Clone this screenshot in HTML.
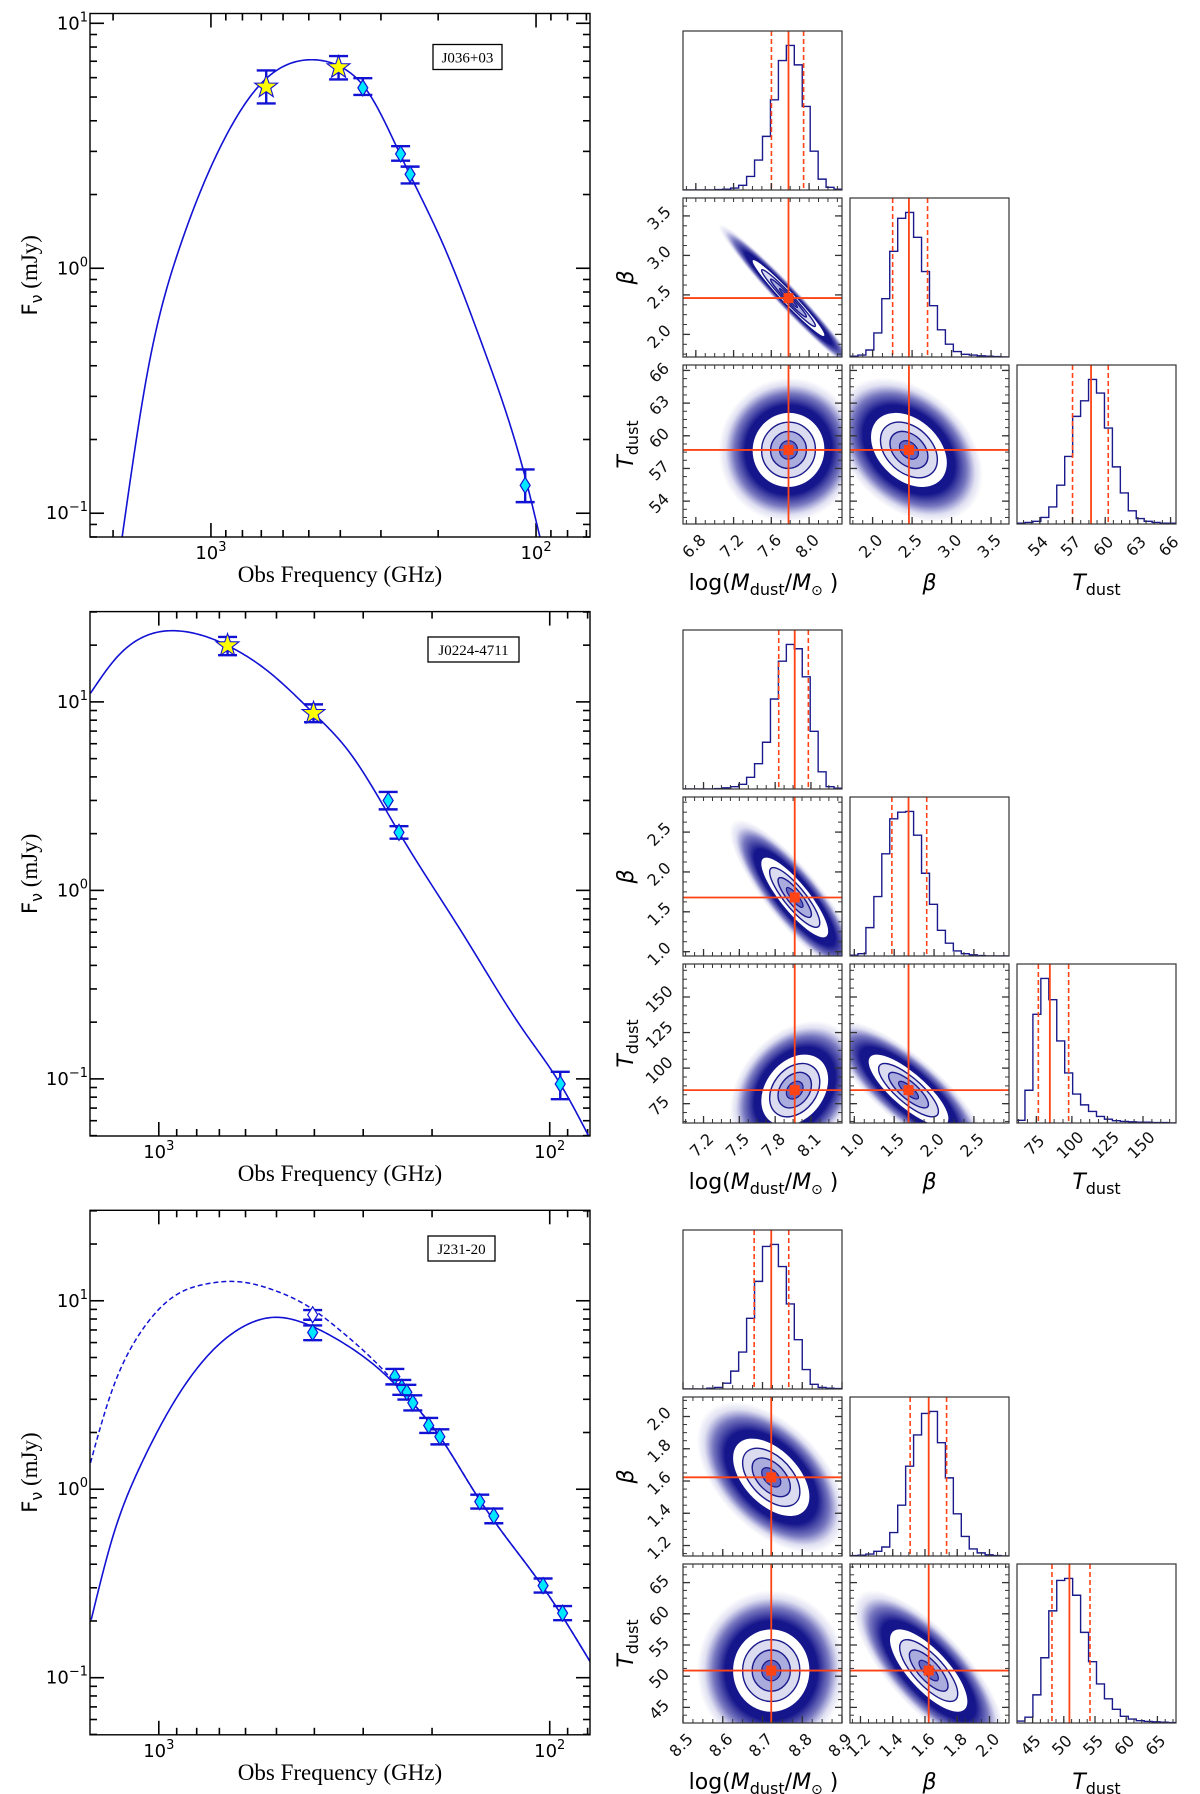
<!DOCTYPE html>
<html><head><meta charset="utf-8">
<style>
html,body{margin:0;padding:0;background:#fff;}
svg{display:block;}
text{font-family:"DejaVu Sans","Liberation Sans",sans-serif;}
</style></head>
<body>
<svg id="fig" width="1200" height="1794" viewBox="0 0 1200 1794" xmlns="http://www.w3.org/2000/svg">
<defs>
<radialGradient id="halo" cx="0.5" cy="0.5" r="0.5">
<stop offset="0" stop-color="#16168c" stop-opacity="1"/>
<stop offset="0.62" stop-color="#16168c" stop-opacity="1"/>
<stop offset="0.78" stop-color="#1e1e96" stop-opacity="0.6"/>
<stop offset="0.9" stop-color="#3030a8" stop-opacity="0.15"/>
<stop offset="1" stop-color="#3030a8" stop-opacity="0"/>
</radialGradient>
</defs>
</svg>
<script>
// ---------- SED 1 : J036+03 ----------
const sed1_freq = [676, 405, 341, 261, 244, 108];
const sed1_flux = [5.5, 6.6, 5.45, 2.93, 2.42, 0.13];
const sed1_errLo = [4.71, 5.9, 5.1, 2.75, 2.22, 0.111];
const sed1_errHi = [6.42, 7.35, 5.97, 3.15, 2.6, 0.151];
const sed1_marker = ['star', 'star', 'diamond', 'diamond', 'diamond', 'diamond'];
const sed1_curveFreq = [1875, 1563, 1259, 899, 706, 492, 396, 330, 258, 191, 145, 107, 97.3];
const sed1_curveFlux = [0.0802, 0.384, 1.175, 3.467, 5.62, 7.10, 6.61, 5.28, 2.80, 1.21, 0.471, 0.134, 0.080];

// ---------- SED 2 : J0224-4711 ----------
const sed2_freq = [667, 402, 259, 243, 94];
const sed2_flux = [19.9, 8.7, 3.0, 2.03, 0.094];
const sed2_errLo = [17.7, 7.8, 2.69, 1.88, 0.078];
const sed2_errHi = [22.1, 9.7, 3.33, 2.19, 0.109];
const sed2_marker = ['star', 'star', 'diamond', 'diamond', 'diamond'];
const sed2_curveFreq = [1496, 1285, 1096, 891, 667, 516, 402, 327, 243, 165, 117, 94, 79.6];
const sed2_curveFlux = [11.1, 17.1, 22.1, 23.8, 19.9, 14.1, 8.7, 5.48, 2.03, 0.567, 0.182, 0.094, 0.050];

// ---------- SED 3 : J231-20 ----------
const sed3_freq = [404, 404, 249, 239, 232, 224, 204, 191, 151, 139, 104, 92.7];
const sed3_flux = [8.43, 6.79, 3.96, 3.47, 3.27, 2.87, 2.18, 1.90, 0.859, 0.721, 0.308, 0.220];
const sed3_errLo = [7.93, 6.18, 3.6, 3.17, 2.99, 2.62, 1.99, 1.73, 0.79, 0.66, 0.283, 0.202];
const sed3_errHi = [8.93, 7.4, 4.35, 3.8, 3.58, 3.15, 2.39, 2.08, 0.935, 0.79, 0.336, 0.240];
const sed3_marker = ['open', 'diamond', 'diamond', 'diamond', 'diamond', 'diamond', 'diamond', 'diamond', 'diamond', 'diamond', 'diamond', 'diamond'];
const sed3_curveFreq = [1489, 1318, 1117, 918, 753, 619, 505, 414, 337, 272, 228, 191, 157, 128, 105, 78.7];
const sed3_curveFlux = [0.203, 0.540, 1.318, 2.864, 5.06, 7.14, 8.17, 7.45, 5.96, 4.30, 2.98, 1.90, 0.993, 0.540, 0.311, 0.121];
const sed3_dashFreq = [1500, 1334, 1117, 918, 753, 619, 509, 414, 337, 272, 228, 191, 157, 128, 105, 78.7];
const sed3_dashFlux = [1.35, 3.10, 6.73, 10.5, 12.3, 12.6, 11.4, 9.31, 6.73, 4.48, 2.98, 1.90, 0.993, 0.540, 0.311, 0.121];

// ---------- Corner 1 ----------
const c1_range = [[6.664, 8.349], [1.714, 3.727], [51.9, 66.5]];
const c1_ticks = [[6.8, 7.2, 7.6, 8.0], [2.0, 2.5, 3.0, 3.5], [54, 57, 60, 63, 66]];
const c1_tickLabels = [['6.8', '7.2', '7.6', '8.0'], ['2.0', '2.5', '3.0', '3.5'], ['54', '57', '60', '63', '66']];
const c1_histM = [0, 0, 0, 0, 1, 2, 5, 12, 35, 77, 138, 232, 333, 372, 322, 215, 100, 28, 7, 2];
const c1_histB = [2, 5, 18, 62, 150, 272, 357, 372, 308, 220, 132, 70, 33, 14, 7, 5, 3, 2, 1, 0];
const c1_histT = [2, 4, 7, 17, 44, 100, 174, 277, 317, 372, 337, 247, 147, 80, 34, 14, 7, 4, 2, 2];
const c1_median = [7.782, 2.46, 58.7];
const c1_qLo = [7.601, 2.254, 57.0];
const c1_qHi = [7.942, 2.696, 60.28];
const c1_sigma = [0.19, 0.24, 1.7];
const c1_rho = [-0.975, 0.02, -0.35];

// ---------- Corner 2 ----------
const c2_range = [[7.028, 8.36], [0.946, 2.94], [61.4, 173.2]];
const c2_ticks = [[7.2, 7.5, 7.8, 8.1], [1.0, 1.5, 2.0, 2.5], [75, 100, 125, 150]];
const c2_tickLabels = [['7.2', '7.5', '7.8', '8.1'], ['1.0', '1.5', '2.0', '2.5'], ['75', '100', '125', '150']];
const c2_histM = [0, 0, 0, 0, 1, 3, 6, 12, 30, 65, 120, 231, 328, 371, 360, 288, 148, 44, 6, 2];
const c2_histB = [2, 6, 73, 153, 263, 353, 370, 372, 311, 213, 133, 66, 33, 13, 6, 3, 1, 0, 0, 0];
const c2_histT = [7, 85, 282, 375, 320, 213, 130, 75, 47, 30, 17, 10, 6, 4, 3, 2, 2, 1, 1, 0];
const c2_median = [7.964, 1.68, 84.5];
const c2_qLo = [7.83, 1.471, 76.4];
const c2_qHi = [8.078, 1.908, 97.7];
const c2_sigma = [0.14, 0.25, 12.5];
const c2_rho = [-0.85, 0.3, -0.8];

// ---------- Corner 3 ----------
const c3_range = [[8.5, 8.9], [1.135, 2.121], [42.5, 67.98]];
const c3_ticks = [[8.5, 8.6, 8.7, 8.8, 8.9], [1.2, 1.4, 1.6, 1.8, 2.0], [45, 50, 55, 60, 65]];
const c3_tickLabels = [['8.5', '8.6', '8.7', '8.8', '8.9'], ['1.2', '1.4', '1.6', '1.8', '2.0'], ['45', '50', '55', '60', '65']];
const c3_histM = [0, 0, 0, 2, 4, 15, 46, 95, 182, 277, 367, 372, 315, 219, 127, 50, 12, 4, 2, 1];
const c3_histB = [1, 2, 5, 12, 23, 60, 130, 230, 310, 365, 370, 290, 200, 108, 50, 18, 8, 3, 1, 0];
const c3_histT = [5, 15, 72, 167, 287, 365, 370, 327, 232, 157, 100, 62, 35, 17, 10, 6, 4, 3, 2, 1];
const c3_median = [8.722, 1.623, 50.9];
const c3_qLo = [8.679, 1.508, 48.1];
const c3_qHi = [8.766, 1.734, 54.2];
const c3_sigma = [0.048, 0.12, 3.3];
const c3_rho = [-0.5, 0.0, -0.75];

const NS = 'http://www.w3.org/2000/svg';
const svg = document.getElementById('fig');
function mk(parent, tag, attrs, name, txt) {
  const n = document.createElementNS(NS, tag);
  for (const k in attrs) n.setAttribute(k, attrs[k]);
  
  
  if (txt !== undefined) n.textContent = txt;
  parent.appendChild(n);
  return n;
}
const BLUE = '#1212d4';
const NAVY = '#1a1a8c';
const RED = '#ff4314';
let clipId = 0;
function clip(x, y, w, h) {
  const id = 'cp' + (clipId++);
  const cp = mk(svg.querySelector('defs'), 'clipPath', {id: id}, 'clip-region');
  mk(cp, 'rect', {x: x, y: y, width: w, height: h}, 'clip-rect');
  return 'url(#' + id + ')';
}
function splinePath(freqs, fluxes, X, Y) {
  let pts = freqs.map((f, i) => [Math.log10(f), Math.log10(fluxes[i])]).sort((a, b) => a[0] - b[0]);
  const n = pts.length, xs = pts.map(p => p[0]), ys = pts.map(p => p[1]);
  const h = [], al = [0], l = [1], mu = [0], z = [0], c = new Array(n).fill(0), b = [], d = [];
  for (let i = 0; i < n - 1; i++) h.push(xs[i + 1] - xs[i]);
  for (let i = 1; i < n - 1; i++) al.push(3 / h[i] * (ys[i + 1] - ys[i]) - 3 / h[i - 1] * (ys[i] - ys[i - 1]));
  for (let i = 1; i < n - 1; i++) {
    l[i] = 2 * (xs[i + 1] - xs[i - 1]) - h[i - 1] * mu[i - 1];
    mu[i] = h[i] / l[i];
    z[i] = (al[i] - h[i - 1] * z[i - 1]) / l[i];
  }
  for (let j = n - 2; j >= 0; j--) {
    c[j] = (j === 0 ? 0 : z[j] - mu[j] * c[j + 1]);
    b[j] = (ys[j + 1] - ys[j]) / h[j] - h[j] * (c[j + 1] + 2 * c[j]) / 3;
    d[j] = (c[j + 1] - c[j]) / (3 * h[j]);
  }
  let dstr = '';
  for (let j = 0; j < n - 1; j++) {
    for (let k = 0; k <= 20; k++) {
      if (j > 0 && k === 0) continue;
      const t = h[j] * k / 20;
      const lx = xs[j] + t, ly = ys[j] + b[j] * t + c[j] * t * t + d[j] * t * t * t;
      const px = X(Math.pow(10, lx)), py = Y(Math.pow(10, ly));
      dstr += (dstr ? 'L' : 'M') + px.toFixed(2) + ',' + py.toFixed(2);
    }
  }
  return dstr;
}
function supLabel(g, x, y, exp, anchor, name) {
  const t = mk(g, 'text', {x: x, y: y, 'font-size': 18, 'text-anchor': anchor, fill: '#000'}, name);
  mk(t, 'tspan', {}, 'tick-base', '10');
  mk(t, 'tspan', {dy: -8, 'font-size': 13}, 'tick-exponent', exp);
}
function drawSED(L, freq, flux, lo, hi, markers, cF, cS, dF, dS) {
  const g = mk(svg, 'g', {}, L.name);
  const W = L.x1 - L.x0, H = L.y1 - L.y0;
  const X = f => L.x0 + (L.lxL - Math.log10(f)) / (L.lxL - L.lxR) * W;
  const Y = s => L.y0 + (L.lyT - Math.log10(s)) / (L.lyT - L.lyB) * H;
  const tg = mk(g, 'g', {stroke: '#000', 'stroke-width': 1.6}, 'axis-ticks');
  for (let k = Math.floor(L.lxR); k <= Math.ceil(L.lxL); k++) {
    for (let m = 1; m <= 9; m++) {
      const v = Math.log10(m * Math.pow(10, k));
      if (v > L.lxL || v < L.lxR) continue;
      const x = L.x0 + (L.lxL - v) / (L.lxL - L.lxR) * W;
      const len = m === 1 ? 14 : 7;
      mk(tg, 'line', {x1: x, y1: L.y1, x2: x, y2: L.y1 - len}, 'x-tick');
      mk(tg, 'line', {x1: x, y1: L.y0, x2: x, y2: L.y0 + len}, 'x-tick-top');
      if (m === 1) supLabel(g, x, L.y1 + 22, String(k), 'middle', 'x-tick-label');
    }
  }
  for (let k = Math.floor(L.lyB); k <= Math.ceil(L.lyT); k++) {
    for (let m = 1; m <= 9; m++) {
      const v = Math.log10(m * Math.pow(10, k));
      if (v > L.lyT || v < L.lyB) continue;
      const y = L.y0 + (L.lyT - v) / (L.lyT - L.lyB) * H;
      const len = m === 1 ? 14 : 7;
      mk(tg, 'line', {x1: L.x0, y1: y, x2: L.x0 + len, y2: y}, 'y-tick');
      mk(tg, 'line', {x1: L.x1, y1: y, x2: L.x1 - len, y2: y}, 'y-tick-right');
      if (m === 1) supLabel(g, L.x0 - 2, y + 6, k < 0 ? '\u2212' + Math.abs(k) : String(k), 'end', 'y-tick-label');
    }
  }
  const cp = clip(L.x0, L.y0, W, H);
  const cg = mk(g, 'g', {'clip-path': cp}, 'plot-area');
  if (dF) {
    mk(cg, 'path', {d: splinePath(dF, dS, X, Y), fill: 'none', stroke: BLUE, 'stroke-width': 1.5, 'stroke-dasharray': '5,3'}, 'model-curve-dashed');
  }
  mk(cg, 'path', {d: splinePath(cF, cS, X, Y), fill: 'none', stroke: BLUE, 'stroke-width': 1.6}, 'model-curve');
  for (let i = 0; i < freq.length; i++) {
    const x = X(freq[i]), y = Y(flux[i]), yl = Y(lo[i]), yh = Y(hi[i]);
    const eg = mk(cg, 'g', {stroke: BLUE, 'stroke-width': 2.4}, 'error-bar');
    mk(eg, 'line', {x1: x, y1: yl, x2: x, y2: yh}, 'error-bar-stem');
    mk(eg, 'line', {x1: x - 9.5, y1: yl, x2: x + 9.5, y2: yl}, 'error-bar-cap');
    mk(eg, 'line', {x1: x - 9.5, y1: yh, x2: x + 9.5, y2: yh}, 'error-bar-cap');
    if (markers[i] === 'star') {
      let d = '';
      for (let j = 0; j < 10; j++) {
        const r = j % 2 ? 4.8 : 12, a = -Math.PI / 2 + j * Math.PI / 5;
        d += (j ? 'L' : 'M') + (x + r * Math.cos(a)).toFixed(2) + ',' + (y + r * Math.sin(a)).toFixed(2);
      }
      mk(cg, 'path', {d: d + 'Z', fill: '#ffff00', stroke: BLUE, 'stroke-width': 1.1}, 'star-marker');
    } else {
      const fill = markers[i] === 'open' ? '#ffffff' : '#00e8ff';
      mk(cg, 'path', {d: 'M' + x + ',' + (y - 8) + 'L' + (x + 5) + ',' + y + 'L' + x + ',' + (y + 8) + 'L' + (x - 5) + ',' + y + 'Z', fill: fill, stroke: BLUE, 'stroke-width': 1.2}, 'diamond-marker');
    }
  }
  mk(g, 'rect', {x: L.x0, y: L.y0, width: W, height: H, fill: 'none', stroke: '#000', 'stroke-width': 1.4}, 'plot-frame');
  mk(g, 'rect', {x: L.bx, y: L.by, width: L.bw, height: 25, fill: '#fff', stroke: '#000', 'stroke-width': 1.3}, 'source-label-box');
  mk(g, 'text', {x: L.bx + L.bw / 2, y: L.by + 18, 'text-anchor': 'middle', 'font-size': 15, style: 'font-family:"Liberation Serif",serif'}, 'source-label', L.label);
  mk(g, 'text', {x: 340, y: L.y1 + 45, 'text-anchor': 'middle', 'font-size': 23, style: 'font-family:"Liberation Serif",serif'}, 'x-axis-title', 'Obs Frequency (GHz)');
  const yt = mk(g, 'text', {x: 0, y: 0, transform: 'translate(37,' + ((L.y0 + L.y1) / 2) + ') rotate(-90)', 'text-anchor': 'middle', 'font-size': 23, style: 'font-family:"Liberation Serif",serif'}, 'y-axis-title');
  mk(yt, 'tspan', {style: 'font-family:"DejaVu Sans",sans-serif', 'font-size': 21}, 'y-title-f', 'F');
  mk(yt, 'tspan', {dy: 5, 'font-size': 16, style: 'font-family:"DejaVu Sans",sans-serif'}, 'y-title-nu', '\u03bd');
  mk(yt, 'tspan', {dy: -5}, 'y-title-unit', ' (mJy)');
}

drawSED({name: 'sed-plot-j036', x0: 90, y0: 13.5, x1: 590, y1: 537, lxL: 3.372, lxR: 1.834, lyT: 1.040, lyB: -1.097, bx: 433, by: 44.5, bw: 69, label: 'J036+03'},
  sed1_freq, sed1_flux, sed1_errLo, sed1_errHi, sed1_marker, sed1_curveFreq, sed1_curveFlux);
drawSED({name: 'sed-plot-j0224', x0: 90, y0: 611.6, x1: 590, y1: 1136, lxL: 3.176, lxR: 1.897, lyT: 1.479, lyB: -1.303, bx: 428, by: 637, bw: 91, label: 'J0224-4711'},
  sed2_freq, sed2_flux, sed2_errLo, sed2_errHi, sed2_marker, sed2_curveFreq, sed2_curveFlux);
drawSED({name: 'sed-plot-j231', x0: 90, y0: 1210.3, x1: 590, y1: 1734.8, lxL: 3.176, lxR: 1.897, lyT: 1.480, lyB: -1.303, bx: 428, by: 1236, bw: 67, label: 'J231-20'},
  sed3_freq, sed3_flux, sed3_errLo, sed3_errHi, sed3_marker, sed3_curveFreq, sed3_curveFlux, sed3_dashFreq, sed3_dashFlux);

function drawCorner(name, ox, oy, range, ticks, tlabels, hists, med, qlo, qhi, sig, rho) {
  const g = mk(svg, 'g', {}, name);
  const S = 159, step = 167;
  const px = (v, i, x0) => x0 + (v - range[i][0]) / (range[i][1] - range[i][0]) * S;
  const py = (v, i, y0) => y0 + S - (v - range[i][0]) / (range[i][1] - range[i][0]) * S;
  const rhoIdx = {'1,0': 0, '2,0': 1, '2,1': 2};
  for (let r = 0; r < 3; r++) {
    for (let c = 0; c <= r; c++) {
      const x0 = ox + c * step, y0 = oy + r * step;
      const pg = mk(g, 'g', {}, r === c ? 'histogram-panel' : 'scatter-panel');
      const cp = clip(x0, y0, S, S);
      const ig = mk(pg, 'g', {'clip-path': cp}, 'panel-area');
      if (r === c) {
        const h = hists[r], n = h.length, mx = Math.max.apply(null, h) * 1.1;
        let d = '';
        for (let i = 0; i < n; i++) {
          const xa = x0 + i / n * S, xb = x0 + (i + 1) / n * S, yy = y0 + S - h[i] / mx * S;
          d += (i ? 'L' : 'M') + xa.toFixed(2) + ',' + yy.toFixed(2) + 'L' + xb.toFixed(2) + ',' + yy.toFixed(2);
        }
        mk(ig, 'path', {d: d, fill: 'none', stroke: NAVY, 'stroke-width': 1.4}, 'histogram-step');
        [qlo[r], qhi[r]].forEach(v => {
          const x = px(v, r, x0);
          mk(ig, 'line', {x1: x, y1: y0, x2: x, y2: y0 + S, stroke: RED, 'stroke-width': 1.6, 'stroke-dasharray': '5,3'}, 'quantile-line');
        });
        const xm = px(med[r], r, x0);
        mk(ig, 'line', {x1: xm, y1: y0, x2: xm, y2: y0 + S, stroke: RED, 'stroke-width': 1.8}, 'median-line');
      } else {
        const sx = sig[c] * S / (range[c][1] - range[c][0]);
        const sy = sig[r] * S / (range[r][1] - range[r][0]);
        const p = rho[rhoIdx[r + ',' + c]];
        const cx = px(med[c], c, x0), cy = py(med[r], r, y0);
        const tr = 'matrix(' + sx + ',' + (-p * sy) + ',0,' + (sy * Math.sqrt(1 - p * p)) + ',' + cx + ',' + cy + ')';
        const eg = mk(ig, 'g', {transform: tr}, 'posterior-density');
        mk(eg, 'circle', {cx: 0, cy: 0, r: 3.9, fill: 'url(#halo)'}, 'sample-cloud');
        mk(eg, 'circle', {cx: 0, cy: 0, r: 2, fill: '#ffffff'}, 'contour-fill-2sigma');
        mk(eg, 'circle', {cx: 0, cy: 0, r: 1.5, fill: '#dcdcf0', stroke: NAVY, 'stroke-width': 1.4, 'vector-effect': 'non-scaling-stroke'}, 'contour-1p5sigma');
        mk(eg, 'circle', {cx: 0, cy: 0, r: 1, fill: '#abacde', stroke: NAVY, 'stroke-width': 1.4, 'vector-effect': 'non-scaling-stroke'}, 'contour-1sigma');
        mk(eg, 'circle', {cx: 0, cy: 0, r: 0.5, fill: '#6466c0', stroke: NAVY, 'stroke-width': 1.2, 'vector-effect': 'non-scaling-stroke'}, 'contour-0p5sigma');
        mk(eg, 'circle', {cx: 0, cy: 0, r: 0.22, fill: '#24249a'}, 'density-core');
        mk(ig, 'line', {x1: cx, y1: y0, x2: cx, y2: y0 + S, stroke: RED, 'stroke-width': 1.8}, 'truth-line-vertical');
        mk(ig, 'line', {x1: x0, y1: cy, x2: x0 + S, y2: cy, stroke: RED, 'stroke-width': 1.8}, 'truth-line-horizontal');
        mk(ig, 'rect', {x: cx - 5, y: cy - 5, width: 10, height: 10, fill: RED}, 'median-marker');
      }
      const tg = mk(pg, 'g', {stroke: '#333', 'stroke-width': 1}, 'panel-ticks');
      const xt = ticks[c], dx = (xt[1] - xt[0]) / 4;
      for (let v = xt[0] - 8 * dx; v <= range[c][1]; v += dx) {
        if (v < range[c][0]) continue;
        const x = px(v, c, x0);
        mk(tg, 'line', {x1: x, y1: y0 + S, x2: x, y2: y0 + S - 4}, 'x-tick');
        if (r !== c) mk(tg, 'line', {x1: x, y1: y0, x2: x, y2: y0 + 4}, 'x-tick-top');
      }
      if (r !== c) {
        const yt = ticks[r], dy = (yt[1] - yt[0]) / 4;
        for (let v = yt[0] - 8 * dy; v <= range[r][1]; v += dy) {
          if (v < range[r][0]) continue;
          const y = py(v, r, y0);
          mk(tg, 'line', {x1: x0, y1: y, x2: x0 + 4, y2: y}, 'y-tick');
          mk(tg, 'line', {x1: x0 + S, y1: y, x2: x0 + S - 4, y2: y}, 'y-tick-right');
        }
        yt.forEach(v => {
          const y = py(v, r, y0);
          mk(tg, 'line', {x1: x0, y1: y, x2: x0 + 7, y2: y, 'stroke-width': 1.3}, 'y-major-tick');
          mk(tg, 'line', {x1: x0 + S, y1: y, x2: x0 + S - 7, y2: y, 'stroke-width': 1.3}, 'y-major-tick-right');
        });
        if (c === 0) {
          yt.forEach((v, i) => {
            const y = py(v, r, y0);
            mk(pg, 'text', {x: 0, y: 0, transform: 'translate(' + (x0 - 20) + ',' + (y + 6) + ') rotate(-45)', 'text-anchor': 'middle', 'font-size': 16, fill: '#111'}, 'y-tick-label', tlabels[r][i]);
          });
        }
      }
      xt.forEach(v => {
        const x = px(v, c, x0);
        mk(tg, 'line', {x1: x, y1: y0 + S, x2: x, y2: y0 + S - 7, 'stroke-width': 1.3}, 'x-major-tick');
      });
      if (r === 2) {
        xt.forEach((v, i) => {
          const x = px(v, c, x0);
          mk(pg, 'text', {x: 0, y: 0, transform: 'translate(' + (x + 2) + ',' + (y0 + S + 26) + ') rotate(-45)', 'text-anchor': 'middle', 'font-size': 16, fill: '#111'}, 'x-tick-label', tlabels[c][i]);
        });
      }
      mk(pg, 'rect', {x: x0, y: y0, width: S, height: S, fill: 'none', stroke: '#333', 'stroke-width': 1.2}, 'panel-frame');
    }
  }
  const by = oy + 2 * step + S + 66;
  const t1 = mk(g, 'text', {x: ox + S / 2 + 1, y: by, 'text-anchor': 'middle', 'font-size': 22}, 'x-axis-title-mass');
  mk(t1, 'tspan', {}, 'label-part', 'log(');
  mk(t1, 'tspan', {'font-style': 'italic'}, 'label-part', 'M');
  mk(t1, 'tspan', {dy: 5, 'font-size': 16}, 'label-sub', 'dust');
  mk(t1, 'tspan', {dy: -5}, 'label-part', '/');
  mk(t1, 'tspan', {'font-style': 'italic'}, 'label-part', 'M');
  mk(t1, 'tspan', {dy: 5, 'font-size': 14}, 'label-sub', '\u2299');
  mk(t1, 'tspan', {dy: -5}, 'label-part', ' )');
  mk(g, 'text', {x: ox + step + S / 2, y: by, 'text-anchor': 'middle', 'font-size': 22, 'font-style': 'italic'}, 'x-axis-title-beta', '\u03b2');
  const t3 = mk(g, 'text', {x: ox + 2 * step + S / 2, y: by, 'text-anchor': 'middle', 'font-size': 22}, 'x-axis-title-tdust');
  mk(t3, 'tspan', {'font-style': 'italic'}, 'label-part', 'T');
  mk(t3, 'tspan', {dy: 5, 'font-size': 16}, 'label-sub', 'dust');
  mk(g, 'text', {x: 0, y: 0, transform: 'translate(' + (ox - 50) + ',' + (oy + step + S / 2) + ') rotate(-90)', 'text-anchor': 'middle', 'font-size': 22, 'font-style': 'italic'}, 'y-axis-title-beta', '\u03b2');
  const t4 = mk(g, 'text', {x: 0, y: 0, transform: 'translate(' + (ox - 50) + ',' + (oy + 2 * step + S / 2) + ') rotate(-90)', 'text-anchor': 'middle', 'font-size': 22}, 'y-axis-title-tdust');
  mk(t4, 'tspan', {'font-style': 'italic'}, 'label-part', 'T');
  mk(t4, 'tspan', {dy: 5, 'font-size': 16}, 'label-sub', 'dust');
}
drawCorner('corner-plot-j036', 683, 31, c1_range, c1_ticks, c1_tickLabels, [c1_histM, c1_histB, c1_histT], c1_median, c1_qLo, c1_qHi, c1_sigma, c1_rho);
drawCorner('corner-plot-j0224', 683, 630, c2_range, c2_ticks, c2_tickLabels, [c2_histM, c2_histB, c2_histT], c2_median, c2_qLo, c2_qHi, c2_sigma, c2_rho);
drawCorner('corner-plot-j231', 683, 1230, c3_range, c3_ticks, c3_tickLabels, [c3_histM, c3_histB, c3_histT], c3_median, c3_qLo, c3_qHi, c3_sigma, c3_rho);
</script>
</body></html>
